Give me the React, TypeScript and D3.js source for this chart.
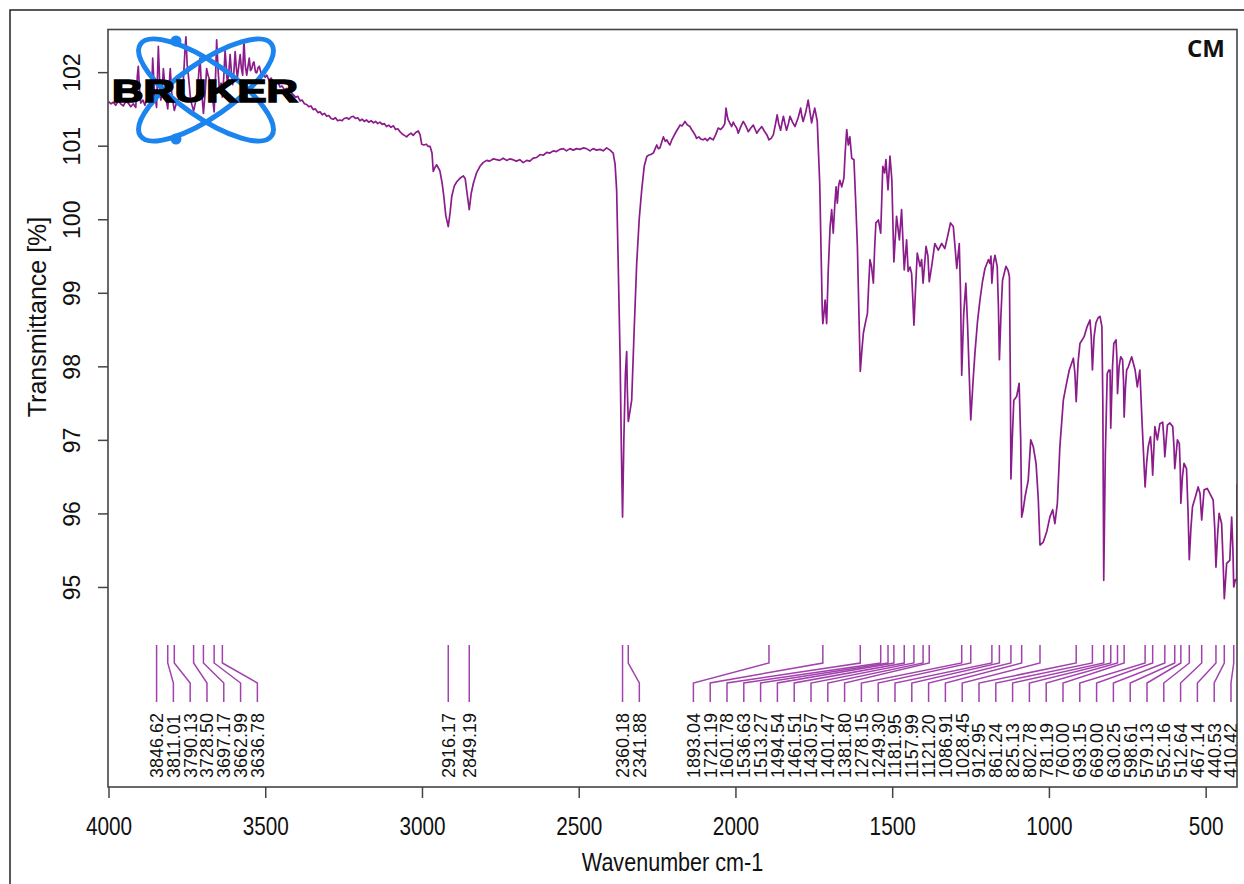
import React, { useEffect, useRef } from "react";
import * as d3 from "d3";

const W = 1244;
const H = 884;

// spectrum (cm-1 / %T)
const wavenumber = [
  4000, 3992, 3985, 3977, 3969, 3961, 3953, 3945, 3937, 3929, 3921, 3913, 3908, 3905, 3900, 3897, 3890, 3884, 3876, 3868,
  3863, 3859, 3853, 3846.62, 3841, 3837, 3833, 3828, 3825, 3818, 3811.01, 3806, 3803, 3798, 3790.13, 3783, 3775, 3767, 3761, 3756,
  3753, 3749, 3745, 3738, 3728.5, 3722, 3716, 3711, 3708, 3703, 3697.17, 3692, 3687, 3682, 3676, 3670, 3662.99, 3658, 3655, 3650,
  3646, 3641, 3636.78, 3632, 3628, 3624, 3621, 3616, 3612, 3608, 3604, 3600, 3596, 3592, 3589, 3584, 3580, 3576, 3572, 3568,
  3564, 3559, 3555, 3551, 3547, 3543, 3539, 3536, 3531, 3527, 3523, 3519, 3513, 3508, 3500, 3495, 3488, 3481, 3474, 3466,
  3459, 3453, 3446, 3439, 3432, 3425, 3418, 3410, 3403, 3396, 3389, 3382, 3375, 3368, 3361, 3354, 3347, 3340, 3332, 3325,
  3318, 3311, 3304, 3297, 3290, 3283, 3276, 3269, 3262, 3255, 3248, 3240, 3233, 3226, 3219, 3212, 3205, 3198, 3191, 3184,
  3177, 3170, 3162, 3155, 3148, 3141, 3134, 3127, 3120, 3113, 3106, 3099, 3091, 3084, 3077, 3070, 3063, 3056, 3049, 3042,
  3035, 3028, 3020, 3012, 3006, 3001, 2994, 2986, 2980, 2974, 2968, 2964, 2959, 2953, 2948, 2943, 2936, 2930, 2924, 2916.17,
  2910, 2905, 2897, 2889, 2878, 2868, 2862, 2856, 2849.19, 2843, 2836, 2826, 2815, 2805, 2794, 2784, 2773, 2762, 2752, 2741,
  2730, 2720, 2710, 2699, 2688, 2677, 2666, 2656, 2645, 2634, 2623, 2613, 2602, 2592, 2581, 2571, 2560, 2549, 2539, 2528,
  2517, 2507, 2496, 2486, 2475, 2464, 2454, 2443, 2432, 2422, 2411, 2400, 2390, 2384, 2379, 2374, 2368, 2364, 2360.18, 2356,
  2351, 2347, 2345, 2341.88, 2336, 2331, 2323, 2315, 2307, 2299, 2291, 2283, 2278, 2270, 2262, 2256, 2251, 2246, 2241, 2235,
  2230, 2224, 2219, 2214, 2209, 2203, 2198, 2188, 2182, 2177, 2170, 2161, 2153, 2145, 2140, 2135, 2128, 2124, 2117, 2110,
  2103, 2097, 2090, 2081, 2076, 2071, 2063, 2055, 2047, 2039, 2034, 2030, 2026, 2023, 2017, 2012, 2007, 2002, 1996, 1991,
  1983, 1975, 1967, 1959, 1951, 1943, 1937, 1932, 1924, 1916, 1908, 1900, 1893.04, 1886, 1879, 1872, 1867, 1862, 1856, 1851,
  1847, 1842, 1837, 1831, 1826, 1818, 1810, 1800, 1792, 1788, 1784, 1776, 1768, 1762, 1757, 1752, 1747, 1742, 1739, 1735,
  1731, 1727, 1723, 1721.19, 1717, 1714, 1711, 1709, 1704, 1698, 1693, 1688, 1683, 1679, 1675, 1671, 1667, 1661, 1654, 1650,
  1645, 1640, 1635, 1629, 1622, 1616, 1611, 1606, 1601.78, 1597, 1592, 1585, 1579, 1575, 1571, 1566, 1560, 1556, 1552, 1544,
  1536.63, 1533, 1530, 1524, 1520, 1513.27, 1507, 1501, 1498, 1494.54, 1486, 1477, 1470, 1461.51, 1454, 1449, 1443, 1438, 1434, 1430.57,
  1425, 1420, 1411, 1406, 1401.47, 1392, 1386, 1381.8, 1374, 1364, 1353, 1342, 1332, 1321, 1314, 1305, 1299, 1294, 1286, 1282,
  1278.15, 1272, 1265, 1259, 1249.3, 1242, 1236, 1228, 1220, 1212, 1204, 1193, 1188, 1185, 1181.95, 1177, 1172, 1165, 1161, 1157.99,
  1153, 1148, 1137, 1130, 1126, 1123, 1121.2, 1117, 1112, 1103, 1098, 1095, 1090, 1086.91, 1082, 1076, 1066, 1058, 1050, 1041,
  1034, 1028.45, 1018, 1007, 997, 988, 981, 973, 965, 954, 946, 935, 922, 917, 912.95, 907, 901, 888, 878, 869,
  865, 861.24, 856, 850, 843, 837, 831, 828, 825.13, 820, 814, 809, 805, 802.78, 797, 793, 786, 783, 781.19, 776,
  771, 765, 762, 760, 756, 752, 747, 736, 725, 718, 710, 702, 693.15, 688, 683, 676, 672, 669, 662, 654,
  646, 637, 633, 630.25, 622, 614, 605, 601, 598.61, 590, 584, 581, 579.13, 574, 569, 561, 556, 552.16, 547, 542,
  531, 524, 518, 512.64, 505, 495, 484, 476, 471, 467.14, 462, 457, 449, 444, 440.53, 433, 423, 417, 413, 410.42,
  405, 401, 400,
];

const transmittance = [
  101.6, 101.57, 101.59, 101.55, 101.61, 101.57, 101.54, 101.6, 101.58, 101.53, 101.57, 101.52, 101.95, 102.08, 101.7, 101.58, 101.62, 101.55, 101.66, 101.74,
  101.65, 102.19, 101.7, 101.52, 102.35, 101.9, 101.62, 101.8, 102.05, 101.7, 101.5, 101.85, 102.05, 101.7, 101.48, 101.58, 101.65, 101.74, 101.9, 102.3,
  102.48, 102.1, 101.95, 101.62, 101.47, 101.6, 101.75, 102.05, 102.19, 101.75, 101.44, 101.7, 102.05, 101.95, 101.88, 101.72, 101.46, 102.0, 102.44, 102.0,
  101.75, 101.85, 101.66, 101.95, 102.3, 102.05, 101.85, 102.0, 102.24, 102.0, 101.83, 102.0, 102.28, 102.05, 101.92, 102.1, 102.24, 102.05, 101.96, 102.44,
  102.1, 101.96, 102.08, 102.19, 102.02, 102.05, 102.12, 102.14, 102.0, 101.99, 102.06, 102.08, 101.98, 101.99, 101.93, 101.96, 101.89, 101.92, 101.86, 101.84,
  101.86, 101.8, 101.81, 101.76, 101.78, 101.72, 101.73, 101.69, 101.66, 101.67, 101.61, 101.62, 101.57, 101.56, 101.53, 101.54, 101.49, 101.5, 101.45, 101.46,
  101.42, 101.44, 101.4, 101.41, 101.37, 101.36, 101.38, 101.34, 101.35, 101.34, 101.37, 101.38, 101.36, 101.39, 101.4, 101.37, 101.38, 101.34, 101.36, 101.33,
  101.35, 101.32, 101.34, 101.31, 101.33, 101.3, 101.32, 101.29, 101.3, 101.26, 101.28, 101.25, 101.27, 101.22, 101.23, 101.19, 101.16, 101.14, 101.12, 101.15,
  101.17, 101.14, 101.18, 101.2, 101.15, 101.02, 101.01, 101.02, 100.99, 100.99, 100.9, 100.65, 100.7, 100.74, 100.7, 100.66, 100.5, 100.3, 100.05, 99.9,
  100.1, 100.31, 100.45, 100.51, 100.56, 100.59, 100.55, 100.35, 100.13, 100.35, 100.49, 100.63, 100.72, 100.77, 100.8, 100.79, 100.82, 100.81, 100.8, 100.83,
  100.8, 100.82, 100.81, 100.79, 100.81, 100.77, 100.8, 100.79, 100.83, 100.84, 100.88, 100.87, 100.91, 100.9, 100.93, 100.92, 100.95, 100.96, 100.93, 100.96,
  100.94, 100.96, 100.95, 100.97, 100.96, 100.93, 100.96, 100.94, 100.95, 100.93, 100.97, 100.94, 100.9, 100.75, 100.4, 99.4, 98.13, 96.9, 95.95, 97.0,
  97.9, 98.2, 97.7, 97.25, 97.4, 97.54, 98.5, 99.4, 100.0, 100.4, 100.72, 100.85, 100.87, 100.88, 100.9, 100.96, 101.01, 100.96, 100.97, 101.05,
  101.12, 101.06, 101.08, 101.04, 101.01, 101.08, 101.12, 101.2, 101.24, 101.28, 101.27, 101.33, 101.28, 101.26, 101.22, 101.19, 101.14, 101.1, 101.12, 101.09,
  101.08, 101.1, 101.07, 101.11, 101.09, 101.08, 101.15, 101.24, 101.22, 101.26, 101.3, 101.51, 101.4, 101.35, 101.3, 101.26, 101.32, 101.28, 101.24, 101.17,
  101.26, 101.33, 101.27, 101.19, 101.24, 101.28, 101.22, 101.17, 101.22, 101.26, 101.2, 101.15, 101.08, 101.1, 101.15, 101.3, 101.42, 101.3, 101.21, 101.32,
  101.4, 101.3, 101.21, 101.3, 101.4, 101.32, 101.26, 101.38, 101.51, 101.4, 101.33, 101.45, 101.62, 101.45, 101.31, 101.42, 101.51, 101.4, 101.33, 100.9,
  100.47, 99.6, 98.75, 98.58, 98.75, 98.9, 98.7, 98.58, 99.3, 99.9, 100.13, 99.81, 100.2, 100.44, 100.22, 100.45, 100.53, 100.44, 100.56, 100.9,
  101.22, 101.01, 101.12, 100.83, 100.81, 100.2, 99.63, 98.7, 97.93, 98.2, 98.45, 98.6, 98.72, 99.1, 99.45, 99.36, 99.13, 99.6, 99.95, 99.99,
  99.81, 100.3, 100.72, 100.63, 100.81, 100.4, 100.86, 100.53, 100.0, 99.42, 100.04, 99.72, 100.13, 99.31, 99.72, 99.29, 99.35, 99.26, 98.9, 98.56,
  99.1, 99.54, 99.36, 99.45, 99.13, 99.63, 99.5, 99.15, 99.36, 99.67, 99.58, 99.67, 99.6, 99.81, 99.95, 99.9, 99.6, 99.33, 99.67, 99.0,
  97.88, 98.7, 99.13, 98.5, 97.27, 97.8, 98.18, 98.6, 98.9, 99.15, 99.33, 99.45, 99.4, 99.5, 99.13, 99.4, 99.51, 99.36, 98.8, 98.09,
  98.7, 99.17, 99.36, 99.3, 99.22, 97.8, 96.47, 97.0, 97.54, 97.59, 97.7, 97.77, 97.0, 95.95, 96.05, 96.23, 96.45, 97.0, 96.91, 96.68,
  96.2, 95.57, 95.61, 95.75, 95.95, 96.05, 95.86, 96.14, 96.91, 97.54, 97.72, 97.95, 98.11, 97.9, 97.52, 98.05, 98.31, 98.4, 98.54, 98.63,
  98.4, 97.95, 98.4, 98.59, 98.66, 98.68, 98.54, 97.5, 95.09, 96.8, 97.9, 97.95, 97.95, 97.16, 98.0, 98.31, 98.36, 98.1, 97.63, 98.0,
  98.13, 98.09, 97.8, 97.31, 97.7, 97.95, 97.99, 98.13, 97.95, 97.72, 97.95, 97.16, 96.36, 96.7, 96.91, 97.04, 96.8, 96.52, 97.18, 97.0,
  97.22, 97.24, 97.0, 96.77, 97.2, 97.23, 97.18, 96.9, 96.61, 97.0, 96.95, 96.6, 96.14, 96.5, 96.68, 96.61, 96.0, 95.37, 95.8, 96.09,
  96.25, 96.36, 96.27, 95.91, 96.32, 96.34, 96.25, 96.18, 95.8, 95.27, 95.7, 96.0, 95.86, 95.3, 94.84, 95.32, 95.36, 95.95, 95.5, 95.0,
  95.1, 95.09, 96.4,
];

// peak picking table printed under the trace
const peakList = [
  3846.62, 3811.01, 3790.13, 3728.5, 3697.17, 3662.99, 3636.78, 2916.17, 2849.19, 2360.18, 2341.88,
  1893.04, 1721.19, 1601.78, 1536.63, 1513.27, 1494.54, 1461.51, 1430.57, 1401.47, 1381.8, 1278.15,
  1249.3, 1181.95, 1157.99, 1121.2, 1086.91, 1028.45, 912.95, 861.24, 825.13, 802.78, 781.19, 760.0,
  693.15, 669.0, 630.25, 598.61, 579.13, 552.16, 512.64, 467.14, 440.53, 410.42,
];

const xTickValues = [4000, 3500, 3000, 2500, 2000, 1500, 1000, 500];
const yTickValues = [95, 96, 97, 98, 99, 100, 101, 102];
const sampleName = "CM";

const FONT = "'Liberation Sans', Arial, Helvetica, sans-serif";
const LINE = "#8b1c8b";
const PEAK = "#a342ae";

export default function App() {
  const ref = useRef<SVGSVGElement>(null);

  useEffect(() => {
    const svg = d3.select(ref.current);
    svg.selectAll("*").remove();

    const left = 108, right = 1237, top = 29.5, bottom = 787;
    const x = d3.scaleLinear().domain([4000, 400]).range([108.5, right]);
    const y = d3.scaleLinear().domain([92.28, 102.58]).range([bottom, top]);

    // outer border of the figure
    svg.append("rect")
      .attr("x", 10).attr("y", 10)
      .attr("width", W).attr("height", H)
      .attr("fill", "none").attr("stroke", "#222").attr("stroke-width", 1.5);

    svg.append("clipPath").attr("id", "plotClip")
      .append("rect")
      .attr("x", left).attr("y", top)
      .attr("width", right - left).attr("height", bottom - top);

    const data = wavenumber.map((w, i) => [w, transmittance[i]] as [number, number]);
    const line = d3.line<[number, number]>()
      .x(d => x(d[0]))
      .y(d => y(d[1]));

    svg.append("path")
      .datum(data)
      .attr("clip-path", "url(#plotClip)")
      .attr("d", line)
      .attr("fill", "none")
      .attr("stroke", LINE)
      .attr("stroke-width", 1.7)
      .attr("stroke-linejoin", "round");

    // peak labels: spread so they don't overlap, then push back from the right edge
    const gap = 16.8;
    const px = peakList.map(p => x(p));
    const lx = px.slice();
    for (let i = 1; i < lx.length; i++) lx[i] = Math.max(lx[i], lx[i - 1] + gap);
    lx[lx.length - 1] = Math.min(lx[lx.length - 1], right - 6);
    for (let i = lx.length - 2; i >= 0; i--) lx[i] = Math.min(lx[i], lx[i + 1] - gap);

    const peaks = svg.append("g");
    peakList.forEach((p, i) => {
      const d = Math.abs(lx[i] - px[i]) < 0.5
        ? `M${px[i]},645V702`
        : `M${px[i]},645V663L${lx[i]},683V702`;
      peaks.append("path")
        .attr("d", d)
        .attr("fill", "none")
        .attr("stroke", PEAK)
        .attr("stroke-width", 1.5);
      peaks.append("text")
        .attr("transform", `translate(${lx[i]},778) rotate(-90)`)
        .attr("dy", "0.36em")
        .attr("font-family", FONT)
        .attr("font-size", 18)
        .attr("fill", "#111")
        .text(p.toFixed(2));
    });

    // axes
    const xAxis = svg.append("g")
      .attr("transform", `translate(0,${bottom})`)
      .call(d3.axisBottom(x).tickValues(xTickValues).tickSize(11).tickFormat(d3.format("d")));
    xAxis.select(".domain").remove();
    xAxis.selectAll("line").attr("stroke", "#444").attr("stroke-width", 1.5);
    xAxis.selectAll("text")
      .attr("y", null).attr("dy", null)
      .attr("transform", "translate(0,48) scale(0.83,1)")
      .attr("font-family", FONT).attr("font-size", 25).attr("fill", "#111");

    const yAxis = svg.append("g")
      .attr("transform", `translate(${left},0)`)
      .call(d3.axisLeft(y).tickValues(yTickValues).tickSize(10).tickFormat(d3.format("d")));
    yAxis.select(".domain").remove();
    yAxis.selectAll("line").attr("stroke", "#444").attr("stroke-width", 1.5);
    yAxis.selectAll("text")
      .attr("x", null).attr("dy", null)
      .attr("transform", "translate(-28,0) rotate(-90)")
      .attr("text-anchor", "middle")
      .attr("font-family", FONT).attr("font-size", 23).attr("fill", "#111");

    // plot box
    svg.append("rect")
      .attr("x", left).attr("y", top)
      .attr("width", right - left).attr("height", bottom - top)
      .attr("fill", "none").attr("stroke", "#444").attr("stroke-width", 1.6);

    svg.append("text")
      .attr("transform", `translate(${(left + right) / 2},871) scale(0.83,1)`)
      .attr("text-anchor", "middle")
      .attr("font-family", FONT).attr("font-size", 26).attr("fill", "#111")
      .text("Wavenumber cm-1");

    svg.append("text")
      .attr("transform", "translate(46,317) rotate(-90)")
      .attr("text-anchor", "middle")
      .attr("font-family", FONT).attr("font-size", 25).attr("fill", "#111")
      .text("Transmittance [%]");

    svg.append("text")
      .attr("x", 1225).attr("y", 57)
      .attr("text-anchor", "end")
      .attr("font-family", "'Open Sans', 'Liberation Sans', sans-serif")
      .attr("font-weight", 700).attr("font-size", 24).attr("fill", "#111")
      .text(sampleName);

    // Bruker logo over the noisy start of the trace
    const logo = svg.append("g");
    [35, -35].forEach(a => {
      logo.append("ellipse")
        .attr("cx", 206).attr("cy", 90)
        .attr("rx", 80).attr("ry", 27)
        .attr("transform", `rotate(${a},206,90)`)
        .attr("fill", "none")
        .attr("stroke", "#1b84ee")
        .attr("stroke-width", 5);
    });
    [[176, 41], [176, 139]].forEach(([cx, cy]) => {
      logo.append("circle").attr("cx", cx).attr("cy", cy).attr("r", 5.5).attr("fill", "#1b84ee");
    });
    logo.append("text")
      .attr("x", 112).attr("y", 102)
      .attr("textLength", 186).attr("lengthAdjust", "spacingAndGlyphs")
      .attr("font-family", FONT).attr("font-weight", 900).attr("font-size", 31)
      .attr("fill", "#000").attr("stroke", "#000").attr("stroke-width", 1.6)
      .text("BRUKER");
  }, []);

  return (
    <svg
      ref={ref}
      width={W}
      height={H}
      style={{ position: "absolute", left: 0, top: 0, background: "#fff" }}
    />
  );
}
